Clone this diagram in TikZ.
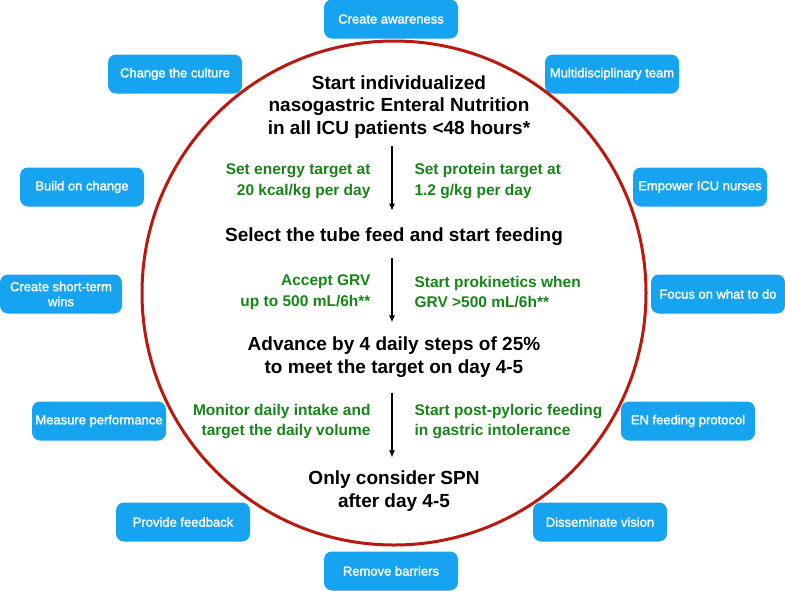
\documentclass[tikz,border=0pt]{standalone}
\usepackage{fontspec}
\setmainfont{Liberation Sans}
\newfontfamily\leverfont[BoldFont=Liberation Sans, BoldFeatures={FakeBold=1.8}]{Liberation Sans}
\usepackage{xcolor}
\usetikzlibrary{arrows.meta, positioning}
\definecolor{leverblue}{RGB}{22,163,240}
\definecolor{ringred}{RGB}{185,25,15}
\definecolor{goalgreen}{RGB}{22,132,22}

\begin{document}
\begin{tikzpicture}[x=1pt, y=-1pt,
  lever/.style={fill=leverblue, rounded corners=8pt, text=white, minimum width=134pt,
    minimum height=39pt, inner sep=2pt, align=center, font=\leverfont\bfseries\fontsize{13}{15}\selectfont},
  stepnode/.style={align=center, font=\bfseries\fontsize{19}{22.5}\selectfont},
  goal/.style={text=goalgreen, font=\bfseries\fontsize{15.5}{20.5}\selectfont},
  flow/.style={-{Latex[length=7pt,width=6pt]}, line width=1.1pt}]

\useasboundingbox (0,0) rectangle (785,590);

% Outer ring
\node[circle, draw=ringred, line width=3pt, minimum size=504pt, inner sep=0pt] (ring) at (394,293) {};

% Steps of the protocol
\node[stepnode] (start) at (399,107) {Start individualized\\nasogastric Enteral Nutrition\\in all ICU patients <48 hours*};
\node[stepnode] (select) at (394,237) {Select the tube feed and start feeding};
\node[stepnode] (advance) at (394,357) {Advance by 4 daily steps of 25\%\\to meet the target on day 4-5};
\node[stepnode] (spn) at (394,491) {Only consider SPN\\after day 4-5};

% Targets and actions (green)
\node[goal, anchor=east, align=right] (energy) at (374,181) {Set energy target at\\20 kcal/kg per day};
\node[goal, anchor=west, align=left] (protein) at (411,181) {Set protein target at\\1.2 g/kg per day};
\node[goal, anchor=east, align=right] (grv) at (374,292) {Accept GRV\\up to 500 mL/6h**};
\node[goal, anchor=west, align=left] (prokin) at (411,292) {Start prokinetics when\\GRV >500 mL/6h**};
\node[goal, anchor=east, align=right] (monitor) at (374,421.5) {Monitor daily intake and\\target the daily volume};
\node[goal, anchor=west, align=left] (pylor) at (411,421.5) {Start post-pyloric feeding\\in gastric intolerance};

% Arrows between the steps
\coordinate (axis) at (392,0);
\draw[flow, shorten <=4pt, shorten >=14pt] (start.south -| axis) -- (select.north -| axis);
\draw[flow, shorten <=9pt, shorten >=11pt] (select.south -| axis) -- (advance.north -| axis);
\draw[flow, shorten <=12pt, shorten >=10pt] (advance.south -| axis) -- (spn.north -| axis);

% Change levers around the ring
\foreach \nm/\x/\y/\txt in {
  aware/391/19/Create awareness,
  culture/175/74/Change the culture,
  team/612/74/Multidisciplinary team,
  nurses/700/187/Empower ICU nurses,
  focus/718/294/Focus on what to do,
  measure/99/421/Measure performance,
  protocol/688/421/EN feeding protocol,
  feedback/183/522/Provide feedback,
  vision/600/522/Disseminate vision,
  barriers/391/571/Remove barriers} {
    \node[lever] (\nm) at (\x,\y) {\txt};
}
\node[lever, minimum width=124pt] (build) at (82,187) {Build on change};
\node[lever, minimum width=122pt] (wins) at (61,294) {Create short-term\\wins};
\end{tikzpicture}
\end{document}
